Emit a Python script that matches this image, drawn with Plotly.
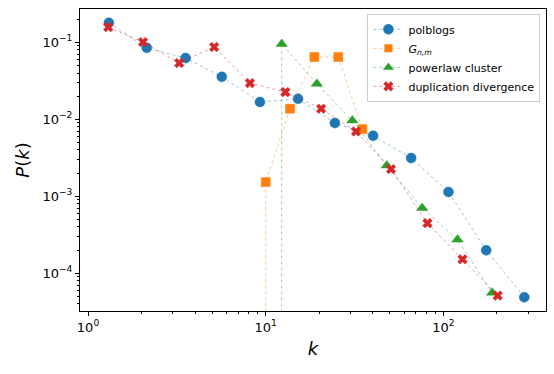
import plotly.graph_objects as go
import numpy as np

# polblogs
pb_k = [1.31, 2.14, 3.54, 5.66, 9.28, 15.2, 24.5, 40.2, 65.8, 106.7, 174, 285]
pb_p = [0.180, 0.085, 0.0627, 0.0357, 0.0168, 0.0185, 0.00895, 0.00612, 0.00314, 0.00114, 0.000199, 4.89e-5]

# G_{n,m} (leading empty bin is zero)
gnm_k = [9.9, 10.0, 13.7, 18.8, 25.6, 35.0]
gnm_p = [0.0, 0.00153, 0.01375, 0.0646, 0.0646, 0.00748]

# powerlaw cluster (leading empty bin is zero)
plc_k = [12.2, 12.3, 19.4, 30.7, 48.0, 75.9, 120, 188]
plc_p = [0.0, 0.0953, 0.0290, 0.00968, 0.00252, 0.000703, 0.000274, 5.6e-5]

# duplication divergence
dd_k = [1.30, 2.04, 3.26, 5.13, 8.15, 12.9, 20.5, 32.2, 50.7, 81.3, 128, 202]
dd_p = [0.158, 0.101, 0.054, 0.0871, 0.0296, 0.0226, 0.01375, 0.00697, 0.00226, 0.000448, 0.000152, 5.13e-5]


def clip(v):
    # emulate matplotlib's log-scale clipping of non-positive values
    return [x if x > 0 else 1e-30 for x in v]


series = [
    ("polblogs", pb_k, pb_p, "#1f77b4", "rgba(31,119,180,0.5)", "circle", 10),
    ("<i>G</i><sub><i>n,m</i></sub>", gnm_k, gnm_p, "#ff7f0e", "rgba(255,127,14,0.5)", "square", 9),
    ("powerlaw cluster", plc_k, plc_p, "#2ca02c", "rgba(44,160,44,0.5)", "triangle-up", 10),
    ("duplication divergence", dd_k, dd_p, "#d62728", "rgba(214,39,40,0.5)", "x", 8.5),
]

fig = go.Figure()
for name, k, p, col, lcol, sym, sz in series:
    yv = clip(p)
    sizes = [sz if v > 0 else 0 for v in p]
    fig.add_trace(go.Scatter(
        x=k, y=yv, name=name, mode="lines+markers",
        line=dict(color=lcol, width=0.9, dash="dot"),
        marker=dict(color=col, symbol=sym, size=sizes, opacity=1,
                    line=dict(width=0.5, color=col)),
        opacity=1,
        cliponaxis=True,
    ))

minor_x = [m * 10 ** d for d in range(-1, 3) for m in range(2, 10)]
minor_y = [m * 10 ** d for d in range(-5, 0) for m in range(2, 10)]

fig.update_layout(
    width=554, height=374,
    margin=dict(l=80, r=8, t=9, b=63),
    paper_bgcolor="white", plot_bgcolor="white",
    font=dict(family="DejaVu Sans", color="black", size=13),
    legend=dict(
        x=0.988, y=0.984, xanchor="right", yanchor="top",
        bordercolor="#cccccc", borderwidth=1, bgcolor="rgba(255,255,255,0.8)",
        font=dict(size=11), tracegroupgap=0, itemwidth=30,
    ),
    showlegend=True,
)
fig.update_xaxes(
    type="log", range=[-0.045, 2.577],
    showgrid=False, zeroline=False,
    showline=True, linecolor="black", linewidth=1, mirror=True,
    ticks="outside", ticklen=4, tickcolor="black",
    tickvals=[1, 10, 100], ticktext=["10<sup>0</sup>", "10<sup>1</sup>", "10<sup>2</sup>"],
    minor=dict(tickvals=minor_x, ticks="outside", ticklen=2, tickcolor="black", showgrid=False),
    title=dict(text="<i>k</i>", font=dict(size=18), standoff=8),
)
fig.update_yaxes(
    type="log", range=[-4.49, -0.566],
    showgrid=False, zeroline=False,
    showline=True, linecolor="black", linewidth=1, mirror=True,
    ticks="outside", ticklen=4, tickcolor="black",
    tickvals=[1e-4, 1e-3, 1e-2, 1e-1],
    ticktext=["10<sup>−4</sup>", "10<sup>−3</sup>", "10<sup>−2</sup>", "10<sup>−1</sup>"],
    minor=dict(tickvals=minor_y, ticks="outside", ticklen=2, tickcolor="black", showgrid=False),
    title=dict(text="<i>P</i>(<i>k</i>)", font=dict(size=18), standoff=8),
)

fig.write_html("out.html")
